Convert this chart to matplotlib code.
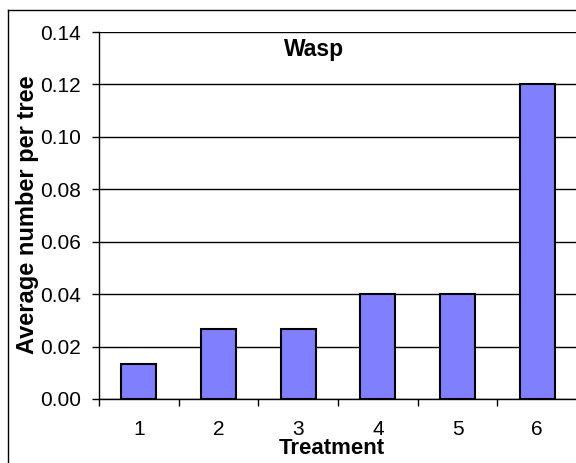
import numpy as np
from matplotlib import pyplot as plt
from matplotlib.lines import Line2D

plt.rcParams['font.family'] = ['Liberation Sans', 'DejaVu Sans']

# data
treatments = ['1', '2', '3', '4', '5', '6']
wasp = [0.0133, 0.0267, 0.0267, 0.04, 0.04, 0.12]
y_ticks = [0.00, 0.02, 0.04, 0.06, 0.08, 0.10, 0.12, 0.14]

fig = plt.figure(figsize=(5.76, 4.63), dpi=100)
ax = fig.add_axes([99 / 576, 1 - 399 / 463, 478 / 576, 367 / 463])

x = np.arange(1, len(treatments) + 1)
ax.bar(x, wasp, width=0.44, color='#8080FF', edgecolor='black', linewidth=1.5, zorder=3)

ax.set_xlim(0.5, 6.5)
ax.set_ylim(0, 0.14)
ax.set_yticks(y_ticks)
ax.set_yticklabels(['%.2f' % v for v in y_ticks], fontsize=15)
ax.yaxis.grid(True, color='black', linewidth=1, zorder=0)

# category labels centred, ticks on the boundaries
ax.set_xticks(np.arange(0.5, 7, 1))
ax.set_xticklabels([])
ax.set_xticks(x, minor=True)
ax.set_xticklabels(treatments, minor=True, fontsize=15)
ax.tick_params(axis='x', which='minor', length=0, pad=15)
ax.tick_params(axis='x', which='major', length=5, width=1, direction='out')
ax.tick_params(axis='y', length=5, width=1, direction='out', pad=8)

for s in ['top', 'right']:
    ax.spines[s].set_visible(False)
ax.spines['left'].set_linewidth(1)
ax.spines['bottom'].set_linewidth(1)

ax.text(0.45, 0.952, 'Wasp', transform=ax.transAxes, ha='center', va='center',
        fontsize=16.5, fontweight='bold')
fig.text(28 / 576, 1 - 215 / 463, 'Average number per tree', rotation=90,
         ha='center', va='center', fontsize=17, fontweight='bold')
fig.text(332 / 576, 1 - 449 / 463, 'Treatment', ha='center', va='center',
         fontsize=16, fontweight='bold')

# outer chart border (only left and top edges are in view)
fig.add_artist(Line2D([8 / 576, 8 / 576], [0, 1 - 10 / 463], color='black', linewidth=1))
fig.add_artist(Line2D([8 / 576, 1], [1 - 10 / 463, 1 - 10 / 463], color='black', linewidth=1))

fig.savefig('out.png', dpi=100)
